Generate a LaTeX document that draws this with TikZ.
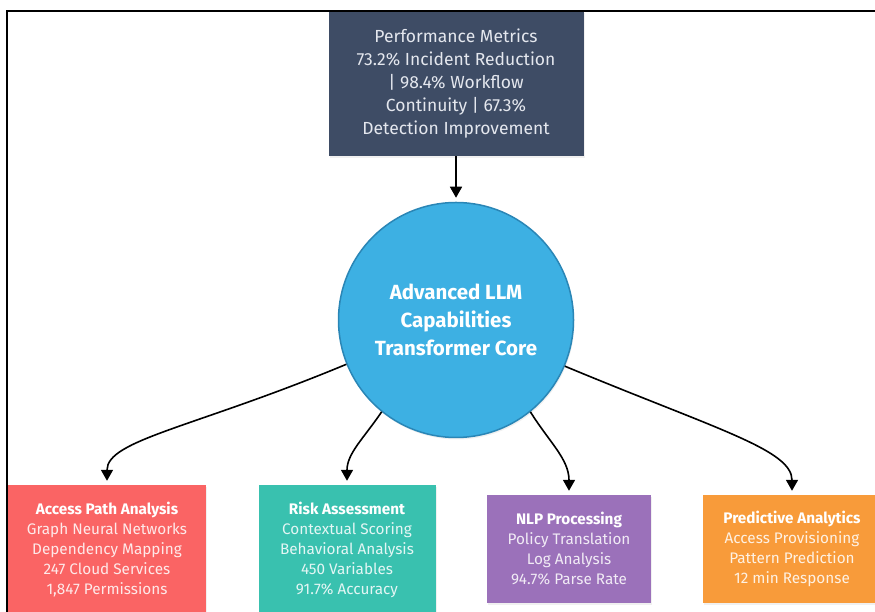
\documentclass[tikz,border=0pt]{standalone}
\usepackage{fontspec}
\setmainfont{Fira Sans}
\usetikzlibrary{arrows.meta}
\usetikzlibrary{shadows}

\definecolor{slate}{HTML}{3E4C65}
\definecolor{slatetext}{HTML}{E4E7EE}
\definecolor{coreblue}{HTML}{3DB0E3}
\definecolor{coreedge}{HTML}{2A86B6}
\definecolor{accessred}{HTML}{FA6464}
\definecolor{riskteal}{HTML}{39C1AF}
\definecolor{nlppurple}{HTML}{9B71BA}
\definecolor{predorange}{HTML}{F89B3A}

\tikzset{
  metricbox/.style={rectangle, fill=slate, text=slatetext, minimum width=255pt,
    minimum height=145pt, inner sep=0pt, align=center,
    font=\fontsize{17.5}{23}\selectfont,
    drop shadow={shadow xshift=1pt, shadow yshift=-2pt, opacity=0.12}},
  corecircle/.style={circle, fill=coreblue, draw=coreedge, line width=1.5pt,
    minimum size=235pt, inner sep=0pt, text=white, align=center,
    font=\bfseries\fontsize{20.5}{28}\selectfont,
    drop shadow={shadow xshift=1pt, shadow yshift=-2pt, opacity=0.12}},
  capbox/.style={rectangle, fill=#1, text=white!86!#1, inner sep=0pt, align=center,
    font=\fontsize{15.3}{20}\selectfont,
    drop shadow={shadow xshift=1pt, shadow yshift=-2pt, opacity=0.12}},
  flow/.style={line width=1.6pt, -{Triangle[width=12pt,length=11pt]}, shorten >=4pt},
}

\newcommand{\captitle}[1]{{\color{white}\bfseries #1}}

\begin{document}
\begin{tikzpicture}[x=1pt,y=1pt]

    \clip (0,0) rectangle (875,612);
    %\draw [help lines, step=50] (0,0) grid (875,612);

    \path   (456,528.5) node (metrics) [metricbox] {Performance Metrics\\73.2\% Incident Reduction\\| 98.4\% Workflow\\Continuity | 67.3\%\\Detection Improvement}
            (456,292)   node (core) [corecircle] {Advanced LLM\\Capabilities\\Transformer Core};

    \path   (107,62.5) node (access) [capbox=accessred, minimum width=198pt, minimum height=129pt]
                {\captitle{Access Path Analysis}\\Graph Neural Networks\\Dependency Mapping\\247 Cloud Services\\1,847 Permissions}
            (347,62.5) node (risk) [capbox=riskteal, minimum width=177pt, minimum height=129pt]
                {\captitle{Risk Assessment}\\Contextual Scoring\\Behavioral Analysis\\450 Variables\\91.7\% Accuracy}
            (569,63)   node (nlp) [capbox=nlppurple, minimum width=164pt, minimum height=108pt]
                {\captitle{NLP Processing}\\Policy Translation\\Log Analysis\\94.7\% Parse Rate}
            (792,63)   node (predict) [capbox=predorange, minimum width=178pt, minimum height=108pt]
                {\captitle{Predictive Analytics}\\Access Provisioning\\Pattern Prediction\\12 min Response};

    \draw[flow] (metrics) -- (core);
    \draw[flow] (core.202.6) .. controls +(202.6:165) and +(0,45) .. (access.north);
    \draw[flow] (core.231.7) to[out=236,in=90] (risk.north);
    \draw[flow] (core.309.6) to[out=302,in=90] (nlp.north);
    \draw[flow] (core.337.4) .. controls +(337.4:165) and +(0,45) .. (predict.north);

    % outer frame
    \draw[line width=2pt] (7,-5) -- (7,601) -- (880,601);
\end{tikzpicture}
\end{document}
